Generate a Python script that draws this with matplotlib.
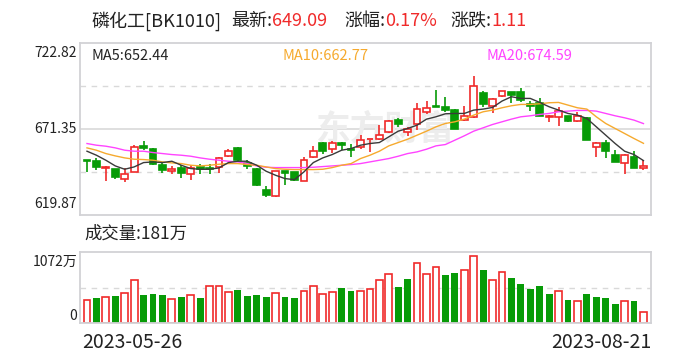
import matplotlib
matplotlib.use("Agg")
import matplotlib.pyplot as plt
from matplotlib.patches import Rectangle
import numpy as np

plt.rcParams['font.family'] = ['Noto Sans CJK SC', 'DejaVu Sans']

# daily K line, 2023-05-26 .. 2023-08-21 (60 sessions)
opens = [652.7, 652.05, 648.3, 647.25, 641.65, 645.65, 661.25, 659.65, 650.05, 646.45,
         648.05, 644.65, 648.45, 648.25, 648.65, 655.25, 660.05, 651.2, 647.4, 635.05,
         631.25, 646.05, 645.4, 640.4, 654.4, 663.2, 659.2, 663.2, 659.6, 660.8,
         664.9, 665.2, 669.3, 676.7, 669.3, 674.1, 681.3, 685.1, 684.3, 682.7,
         676.5, 678.3, 693.1, 685.1, 691.1, 693.5, 693.5, 686.1, 686.7, 678.7,
         678.7, 679.1, 675.9, 677.7, 660.8, 663.0, 655.8, 650.8, 654.6, 647.8]
highs = [653.0, 654.05, 649.0, 647.5, 648.05, 661.65, 664.05, 659.9, 651.65, 649.05,
         649.65, 650.05, 650.25, 650.65, 654.3, 659.65, 660.65, 652.8, 648.0, 637.0,
         646.5, 646.5, 645.6, 654.4, 661.2, 663.4, 664.4, 663.4, 662.4, 667.8,
         665.4, 673.8, 676.8, 678.1, 672.7, 686.7, 688.3, 694.7, 690.3, 683.1,
         685.1, 703.1, 694.3, 690.1, 694.3, 693.7, 695.7, 688.1, 689.7, 679.7,
         684.3, 679.3, 681.5, 678.7, 663.8, 664.8, 658.8, 656.4, 658.2, 652.8]
lows = [645.6, 646.65, 640.05, 641.65, 639.65, 645.65, 658.65, 649.65, 645.25, 644.65,
        642.25, 640.65, 644.65, 644.65, 645.25, 654.65, 651.65, 647.2, 637.5, 630.5,
        630.65, 637.65, 640.2, 640.0, 654.2, 656.4, 656.8, 658.8, 654.8, 659.2,
        657.8, 664.8, 669.0, 672.7, 667.4, 670.7, 680.1, 684.3, 681.7, 671.1,
        676.3, 678.0, 684.3, 680.7, 690.3, 686.7, 687.7, 682.3, 679.1, 675.7,
        673.3, 675.5, 675.7, 664.8, 654.8, 654.2, 651.6, 644.2, 647.9, 646.8]
closes = [652.3, 648.65, 648.8, 642.65, 644.65, 660.65, 660.25, 650.65, 646.65, 647.65,
          645.05, 648.05, 647.25, 647.65, 654.05, 658.25, 652.65, 648.9, 637.8, 631.65,
          646.05, 645.25, 640.8, 652.8, 658.0, 658.4, 662.8, 661.6, 658.8, 665.0,
          665.2, 667.6, 676.3, 674.1, 671.3, 683.1, 683.7, 684.5, 682.7, 671.5,
          678.9, 697.1, 686.1, 689.1, 694.1, 691.9, 688.9, 685.3, 679.3, 679.1,
          682.3, 676.3, 679.3, 665.0, 662.8, 658.4, 651.8, 655.8, 647.98, 649.09]

ma5 = [658.05, 655.65, 652.65, 649.25, 647.25, 648.65, 651.25, 651.65, 651.25, 652.05,
       649.65, 647.65, 647.25, 647.25, 648.05, 651.25, 652.05, 652.05, 649.65, 646.05,
       643.65, 641.65, 641.05, 645.65, 651.25, 654.05, 656.05, 658.65, 659.65, 661.65,
       662.65, 663.25, 666.65, 670.05, 671.65, 673.65, 677.25, 678.65, 680.45, 680.65,
       680.65, 682.65, 683.25, 684.25, 688.05, 690.65, 689.65, 689.65, 687.25, 684.65,
       682.65, 680.65, 679.65, 677.65, 672.65, 667.65, 662.65, 658.05, 656.05, 652.44]
ma10 = [660.05, 658.65, 656.65, 655.25, 654.05, 653.25, 653.05, 652.65, 651.65, 651.05,
        650.65, 649.65, 649.25, 649.65, 650.25, 650.65, 650.65, 650.05, 649.65, 648.65,
        647.65, 647.25, 647.05, 647.05, 647.05, 647.25, 648.25, 649.65, 650.65, 653.65,
        655.65, 658.05, 661.25, 663.25, 665.25, 667.65, 670.05, 672.65, 674.65, 675.65,
        677.25, 679.65, 681.65, 682.65, 684.05, 685.25, 686.05, 686.05, 686.45, 687.05,
        687.25, 685.65, 684.05, 683.25, 678.65, 674.65, 671.65, 668.65, 665.65, 662.77]
ma20 = [662.65, 661.65, 661.05, 660.05, 658.65, 658.05, 658.05, 657.25, 656.65, 656.05,
        655.65, 655.05, 654.05, 653.25, 652.65, 652.05, 651.65, 650.65, 649.25, 648.45,
        648.25, 648.25, 648.25, 648.25, 648.45, 648.85, 649.25, 649.65, 650.05, 650.65,
        651.65, 652.65, 653.65, 655.05, 656.65, 657.65, 659.25, 661.25, 662.05, 664.65,
        667.25, 670.05, 672.05, 674.05, 675.65, 677.25, 678.65, 679.25, 680.05, 680.65,
        681.65, 682.05, 682.45, 682.45, 682.05, 680.65, 679.25, 678.05, 676.65, 674.59]

# volume in 万 and its colour (1 = up vs previous close)
vols = [375, 397, 423, 429, 488, 681, 445, 461, 445, 391,
        413, 456, 397, 600, 600, 504, 525, 429, 445, 413,
        488, 413, 397, 520, 600, 472, 504, 557, 509, 520,
        552, 681, 777, 573, 702, 954, 777, 890, 766, 799,
        842, 1072, 847, 681, 809, 718, 622, 541, 590, 461,
        520, 365, 359, 461, 413, 397, 300, 359, 348, 181]
vol_up = [1, 0, 1, 0, 1, 1, 0, 0, 0, 1,
          0, 1, 0, 1, 1, 1, 0, 0, 0, 0,
          1, 0, 0, 1, 1, 1, 1, 0, 0, 1,
          1, 1, 1, 0, 0, 1, 1, 1, 0, 0,
          1, 1, 0, 1, 1, 0, 0, 0, 0, 0,
          1, 0, 1, 0, 0, 0, 0, 1, 0, 1]

date_first = '2023-05-26'
date_last = '2023-08-21'
price_ticks = ['722.82', '671.35', '619.87']
price_lim = (619.87, 722.82)
vol_max_label = '1072万'

RED = '#f02a2a'
GREEN = '#079b07'
GRID = '#d9d9d9'
FRAME = '#d2d2d6'

W, H = 688, 360
fig = plt.figure(figsize=(W / 100, H / 100), dpi=100)


def box(x0, y0, x1, y1):
    return [x0 / W, 1 - y1 / H, (x1 - x0) / W, (y1 - y0) / H]


ax = fig.add_axes(box(80, 43, 651, 215))
axv = fig.add_axes(box(80, 252, 651, 323))

x = np.arange(len(closes))
bw = 0.72

for a in (ax, axv):
    a.set_xlim(-0.74, 59.8)
    a.set_xticks([])
    a.set_yticks([])
    for s in a.spines.values():
        s.set_color(FRAME)
        s.set_linewidth(1.3)

# price panel
ax.set_ylim(*price_lim)
lo, hi = price_lim
q = (hi - lo) / 4
ax.axhline(lo + 2 * q, color=GRID, lw=1.2, zorder=0)
for v in (lo + q, lo + 3 * q):
    ax.axhline(v, color=GRID, lw=1.0, ls=(0, (4, 4)), zorder=0)

ax.text(0.535, 0.5, '东方财富', transform=ax.transAxes, ha='center', va='center',
        fontsize=25, color='#ededed', fontweight='bold', zorder=0)

for i in x:
    o, h, l, c = opens[i], highs[i], lows[i], closes[i]
    up = c >= o
    col = RED if up else GREEN
    top, bot = max(o, c), min(o, c)
    ax.vlines(i, bot, l, color=col, lw=1.2, zorder=2)
    ax.vlines(i, top, h, color=col, lw=1.2, zorder=2)
    if top - bot < 0.35:
        ax.hlines(c, i - bw / 2, i + bw / 2, color=col, lw=1.3, zorder=3)
    else:
        ax.add_patch(Rectangle((i - bw / 2, bot), bw, top - bot,
                               facecolor='white' if up else col,
                               edgecolor=col, lw=1.2, zorder=3))

ax.plot(x, ma20, color='#ff44ff', lw=1.0, zorder=4)
ax.plot(x, ma10, color='#f6aa2e', lw=1.0, zorder=4)
ax.plot(x, ma5, color='#3a3a3a', lw=1.0, zorder=4)

# volume panel
axv.set_ylim(0, 1136)
axv.axhline(568, color=GRID, lw=1.0, ls=(0, (4, 4)), zorder=0)
for i in x:
    if vol_up[i]:
        axv.add_patch(Rectangle((i - bw / 2, 0), bw, vols[i], facecolor='white',
                                edgecolor=RED, lw=1.2, zorder=2))
    else:
        axv.bar(i, vols[i], width=bw, color=GREEN, zorder=2)


def ftext(px, py, s, **kw):
    return fig.text(px / W, 1 - py / H, s, **kw)


# title line: label in black, value in red
fig.canvas.draw()
rend = fig.canvas.get_renderer()
title_parts = [(91, '磷化工[BK1010]', None), (231, '最新:', '649.09'),
               (344, '涨幅:', '0.17%'), (450, '涨跌:', '1.11')]
for px, lab, val in title_parts:
    t = ftext(px, 21, lab, fontsize=13, color='#222222', va='center', ha='left')
    if val:
        bb = t.get_window_extent(renderer=rend)
        fig.text(bb.x1 / W, 1 - 21 / H, val, fontsize=13, color=RED, va='center', ha='left')

ftext(91, 56, 'MA5:652.44', fontsize=10.5, color='#222222', va='center')
ftext(283, 56, 'MA10:662.77', fontsize=10.5, color='#f6aa2e', va='center')
ftext(487, 56, 'MA20:674.59', fontsize=10.5, color='#ff44ff', va='center')

ftext(77, 53, price_ticks[0], fontsize=10, color='#222222', ha='right', va='center')
ftext(77, 129, price_ticks[1], fontsize=10, color='#222222', ha='right', va='center')
ftext(77, 204, price_ticks[2], fontsize=10, color='#222222', ha='right', va='center')

ftext(84, 234, '成交量:181万', fontsize=12.5, color='#222222', va='center')
ftext(77, 262, vol_max_label, fontsize=10, color='#222222', ha='right', va='center')
ftext(77, 316, '0', fontsize=10, color='#222222', ha='right', va='center')

ftext(82, 342, date_first, fontsize=14, color='#222222', ha='left', va='center')
ftext(651, 342, date_last, fontsize=14, color='#222222', ha='right', va='center')

fig.savefig('out.png', dpi=100)
